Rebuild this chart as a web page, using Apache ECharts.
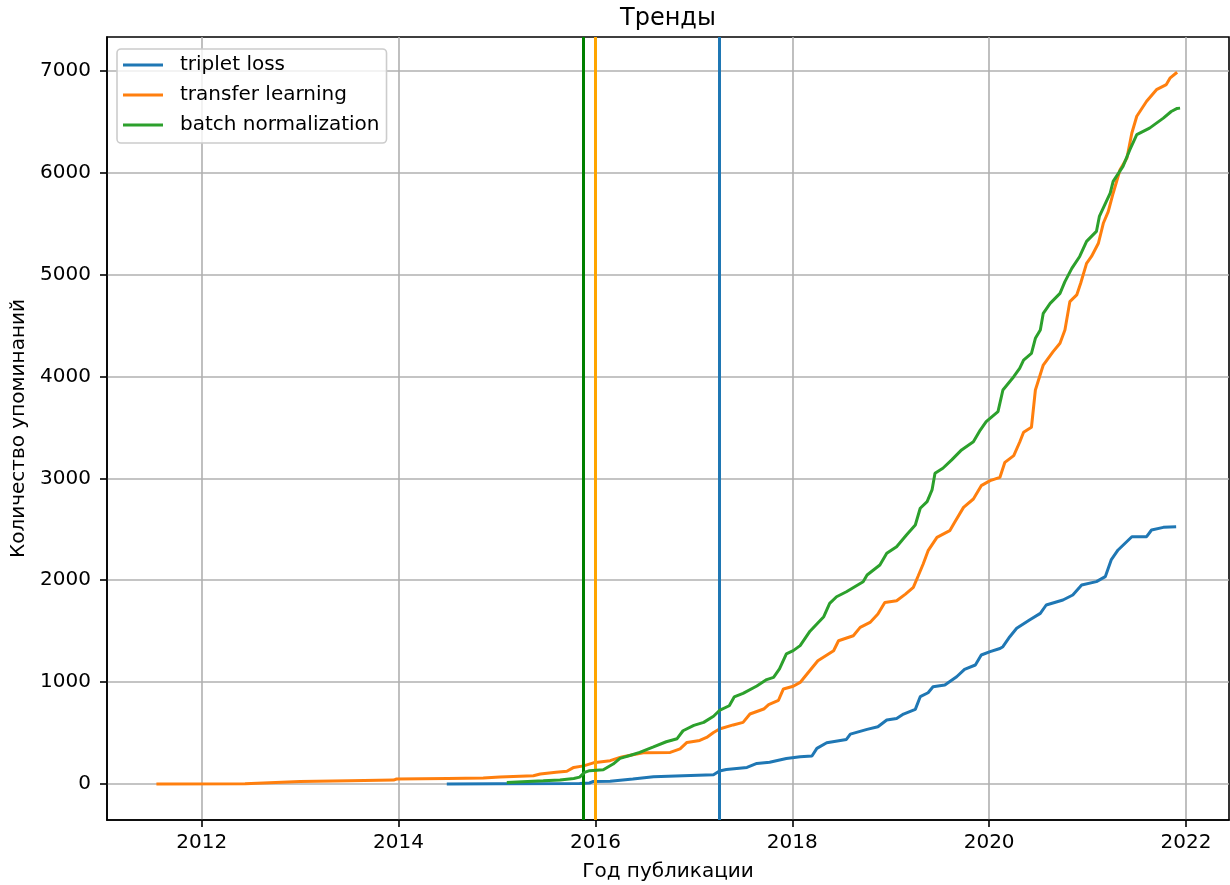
<!DOCTYPE html>
<html>
<head>
<meta charset="utf-8">
<script src="https://cdn.jsdelivr.net/npm/echarts@6/dist/echarts.min.js"></script>
<style>
html,body{margin:0;padding:0;background:#fff;}
#chart{width:1230px;height:885px;}
</style>
</head>
<body>
<div id="chart"></div>
<script>
// ---- data ----
const seriesNames = ['triplet loss', 'transfer learning', 'batch normalization'];
const seriesColors = ['#1f77b4', '#ff7f0e', '#2ca02c'];

const tripletLoss = [
  [2014.49, 0], [2015.0, 2], [2015.84, 6], [2015.94, 10], [2015.98, 26], [2016.15, 28],
  [2016.38, 49], [2016.59, 72], [2016.89, 82], [2017.20, 92], [2017.26, 128], [2017.33, 142],
  [2017.54, 163], [2017.64, 202], [2017.77, 214], [2017.94, 250], [2018.08, 268], [2018.20, 275],
  [2018.25, 350], [2018.35, 405], [2018.55, 438], [2018.59, 490], [2018.76, 536], [2018.87, 562],
  [2018.96, 628], [2019.06, 644], [2019.13, 687], [2019.25, 733], [2019.30, 857], [2019.38, 896],
  [2019.43, 955], [2019.55, 972], [2019.67, 1053], [2019.75, 1126], [2019.86, 1168], [2019.92, 1266],
  [2020.01, 1299], [2020.11, 1330], [2020.14, 1348], [2020.21, 1446], [2020.28, 1528], [2020.41, 1610],
  [2020.52, 1675], [2020.58, 1757], [2020.75, 1806], [2020.85, 1855], [2020.94, 1953], [2021.09, 1986],
  [2021.18, 2035], [2021.24, 2199], [2021.31, 2297], [2021.45, 2427], [2021.60, 2427], [2021.65, 2493],
  [2021.77, 2519], [2021.90, 2525]
];

const transferLearning = [
  [2011.54, 0], [2012.44, 2], [2012.46, 13], [2013.0, 25], [2013.5, 33], [2013.95, 39], [2013.98, 49],
  [2014.5, 55], [2014.86, 59], [2015.03, 70], [2015.37, 81], [2015.44, 98], [2015.60, 115], [2015.71, 125],
  [2015.78, 163], [2015.88, 178], [2015.98, 208], [2016.15, 229], [2016.25, 261], [2016.28, 268],
  [2016.42, 294], [2016.50, 308], [2016.76, 310], [2016.86, 345], [2016.93, 408], [2017.06, 428],
  [2017.13, 457], [2017.20, 506], [2017.26, 540], [2017.40, 580], [2017.50, 605], [2017.57, 687],
  [2017.71, 736], [2017.76, 780], [2017.86, 822], [2017.91, 933], [2018.01, 960], [2018.08, 997],
  [2018.15, 1080], [2018.26, 1210], [2018.42, 1308], [2018.47, 1406], [2018.62, 1455], [2018.69, 1537],
  [2018.79, 1586], [2018.87, 1668], [2018.94, 1782], [2019.06, 1799], [2019.15, 1864], [2019.23, 1930],
  [2019.28, 2044], [2019.33, 2159], [2019.38, 2290], [2019.47, 2421], [2019.60, 2486], [2019.65, 2568],
  [2019.74, 2715], [2019.84, 2797], [2019.92, 2928], [2020.01, 2977], [2020.11, 3010], [2020.16, 3157],
  [2020.25, 3223], [2020.31, 3354], [2020.35, 3452], [2020.43, 3501], [2020.47, 3867], [2020.55, 4112],
  [2020.65, 4243], [2020.72, 4325], [2020.77, 4455], [2020.82, 4734], [2020.89, 4800], [2020.93, 4914],
  [2020.99, 5110], [2021.04, 5177], [2021.11, 5307], [2021.16, 5503], [2021.21, 5617], [2021.26, 5798],
  [2021.33, 6028], [2021.40, 6143], [2021.45, 6389], [2021.50, 6553], [2021.60, 6700], [2021.70, 6814],
  [2021.80, 6864], [2021.84, 6930], [2021.91, 6985]
];

const batchNormalization = [
  [2015.10, 16], [2015.47, 32], [2015.64, 40], [2015.78, 55], [2015.84, 68], [2015.89, 114], [2015.94, 131],
  [2016.08, 140], [2016.18, 196], [2016.25, 252], [2016.35, 280], [2016.45, 310], [2016.59, 364],
  [2016.72, 415], [2016.83, 445], [2016.89, 523], [2017.00, 575], [2017.10, 605], [2017.20, 665],
  [2017.26, 722], [2017.36, 768], [2017.41, 855], [2017.50, 890], [2017.64, 962], [2017.74, 1025],
  [2017.81, 1047], [2017.87, 1130], [2017.94, 1277], [2018.01, 1309], [2018.08, 1358], [2018.18, 1500],
  [2018.32, 1642], [2018.38, 1773], [2018.45, 1838], [2018.55, 1887], [2018.72, 1985], [2018.76, 2051],
  [2018.89, 2149], [2018.96, 2264], [2019.06, 2329], [2019.16, 2444], [2019.25, 2542], [2019.30, 2706],
  [2019.37, 2771], [2019.42, 2886], [2019.45, 3050], [2019.53, 3099], [2019.62, 3181], [2019.72, 3279],
  [2019.84, 3359], [2019.91, 3474], [2019.97, 3556], [2020.09, 3654], [2020.14, 3867], [2020.25, 3997],
  [2020.31, 4079], [2020.35, 4161], [2020.43, 4227], [2020.47, 4374], [2020.52, 4455], [2020.55, 4619],
  [2020.62, 4717], [2020.72, 4815], [2020.77, 4930], [2020.84, 5060], [2020.92, 5177], [2020.99, 5325],
  [2021.09, 5423], [2021.12, 5570], [2021.23, 5799], [2021.26, 5914], [2021.36, 6061], [2021.43, 6226],
  [2021.50, 6373], [2021.63, 6437], [2021.77, 6535], [2021.85, 6600], [2021.91, 6630], [2021.94, 6633]
];

const markerYears = [2015.875, 2016.0, 2017.26];
const markerColors = ['#008000', '#ffa500', '#1f77b4'];

const xTicks = [2012, 2014, 2016, 2018, 2020, 2022];
const yTicks = [0, 1000, 2000, 3000, 4000, 5000, 6000, 7000];

const titleText = 'Тренды';
const xName = 'Год публикации';
const yName = 'Количество упоминаний';

// ---- chart ----
const FONT = 'DejaVu Sans';
const chart = echarts.init(document.getElementById('chart'), null, {renderer: 'canvas'});

const seriesData = [tripletLoss, transferLearning, batchNormalization];
const series = seriesData.map((d, i) => ({
  name: seriesNames[i],
  type: 'line',
  data: d,
  showSymbol: false,
  symbol: 'none',
  lineStyle: {color: seriesColors[i], width: 3},
  itemStyle: {color: seriesColors[i]},
  z: 3 + i,
  animation: false
}));

series.push({
  name: '__markers',
  type: 'line',
  data: [],
  z: 10,
  silent: true,
  animation: false,
  markLine: {
    silent: true,
    symbol: ['none', 'none'],
    label: {show: false},
    animation: false,
    data: markerYears.map((v, i) => ({xAxis: v, lineStyle: {color: markerColors[i], width: 3, type: 'solid'}}))
  }
});

chart.setOption({
  backgroundColor: '#ffffff',
  animation: false,
  title: {
    text: titleText,
    left: 620,
    top: 7,
    padding: 0,
    textStyle: {fontFamily: FONT, fontSize: 24, fontWeight: 'normal', color: '#000'}
  },
  legend: {
    data: seriesNames,
    orient: 'vertical',
    left: 117,
    top: 49,
    padding: [6, 7, 8, 6],
    itemWidth: 40,
    itemHeight: 3,
    itemGap: 10,
    icon: 'rect',
    backgroundColor: 'rgba(255,255,255,0.8)',
    borderColor: '#cccccc',
    borderWidth: 1.6,
    borderRadius: 4,
    textStyle: {fontFamily: FONT, fontSize: 20, color: '#000', lineHeight: 20, padding: [0, 0, 0, 12]}
  },
  grid: {
    left: 107, top: 37, width: 1122, height: 783,
    show: true, borderColor: '#000', borderWidth: 1.6, backgroundColor: 'transparent',
    containLabel: false,
    outerBoundsMode: 'none'
  },
  xAxis: {
    type: 'value',
    min: 2011.038,
    max: 2022.437,
    name: xName,
    nameLocation: 'middle',
    nameGap: 42,
    nameTextStyle: {fontFamily: FONT, fontSize: 20, color: '#000'},
    axisLine: {show: true, onZero: false, lineStyle: {color: '#000', width: 1.6}},
    axisTick: {show: true, customValues: xTicks, length: 7, lineStyle: {color: '#000', width: 1.6}},
    axisLabel: {show: true, customValues: xTicks, margin: 13, fontFamily: FONT, fontSize: 20, color: '#000',
      formatter: v => String(v)},
    splitLine: {show: true, lineStyle: {color: '#b0b0b0', width: 1.6}}
  },
  yAxis: {
    type: 'value',
    min: -353,
    max: 7331,
    name: yName,
    nameLocation: 'middle',
    nameGap: 63,
    nameRotate: 90,
    nameTextStyle: {fontFamily: FONT, fontSize: 20, color: '#000'},
    axisLine: {show: true, onZero: false, lineStyle: {color: '#000', width: 1.6}},
    axisTick: {show: true, customValues: yTicks, length: 7, lineStyle: {color: '#000', width: 1.6}},
    axisLabel: {show: true, customValues: yTicks, margin: 16, fontFamily: FONT, fontSize: 20, color: '#000',
      formatter: v => String(v)},
    splitLine: {show: true, lineStyle: {color: '#b0b0b0', width: 1.6}}
  },
  series: series
});
</script>
</body>
</html>
